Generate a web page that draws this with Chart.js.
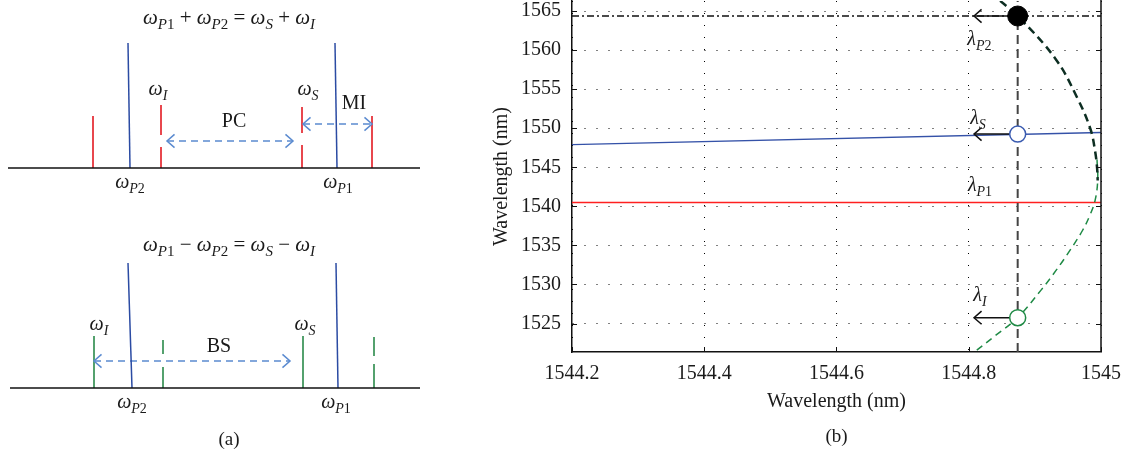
<!DOCTYPE html>
<html><head><meta charset="utf-8">
<script src="https://cdn.jsdelivr.net/npm/chart.js@4.4.1/dist/chart.umd.min.js"></script>
<style>
html,body{margin:0;padding:0;background:#fff;overflow:hidden}
#wrap{position:relative;width:1127px;height:457px;background:#fff;overflow:hidden}
canvas{position:absolute}
</style></head><body>
<div id="wrap">
<canvas id="aTop" width="420" height="225" style="left:0;top:0"></canvas>
<canvas id="aBot" width="420" height="232" style="left:0;top:225px"></canvas>
<canvas id="b" width="707" height="467" style="left:420px;top:-10px"></canvas>
</div>
<script>
// ---------------- DATA ----------------
// Panel (a) upper: PC / MI (sum-frequency relation)
const sumPumpTopFreq = [128, 335];
const sumPumpBaseFreq = [130, 337];
const sumPumpAmp = [125, 125];
const sumLineFreq = [93, 161, 302, 372];
const sumLineAmp = [52, 63, 61, 52];
const sumLineGap = [null, [21, 33], [23, 35], null];
const sumArrowFrom = [167, 303];
const sumArrowTo = [293, 372];
const sumArrowAmp = [27, 44];

// Panel (a) lower: BS (difference-frequency relation)
const diffPumpTopFreq = [128, 336];
const diffPumpBaseFreq = [132, 338];
const diffPumpAmp = [125, 125];
const diffLineFreq = [94, 163, 303, 374];
const diffLineAmp = [52, 48, 52, 51];
const diffLineGap = [null, [21, 34], null, [24, 32]];
const diffArrowFrom = [94];
const diffArrowTo = [290];
const diffArrowAmp = [27];

// Panel (b)
const xTicks = [1544.2, 1544.4, 1544.6, 1544.8, 1545];
const yTicks = [1525, 1530, 1535, 1540, 1545, 1550, 1555, 1560, 1565];
const pump1X = [1544.2, 1545];
const pump1Y = [1540.5, 1540.5];
const signalX = [1544.2, 1545];
const signalY = [1547.9, 1549.45];
const curveUpperX = [1544.8475, 1544.874, 1544.931, 1544.964, 1544.984, 1544.991, 1544.994, 1544.995];
const curveUpperY = [1566.3, 1564.36, 1558.9, 1553.9, 1549.9, 1547.1, 1545.0, 1543.3];
const curveLowerX = [1544.994, 1544.995, 1544.991, 1544.983, 1544.972, 1544.953, 1544.932, 1544.909, 1544.874, 1544.841, 1544.810];
const curveLowerY = [1546.0, 1543.3, 1540.74, 1538.83, 1536.91, 1534.36, 1531.80, 1529.25, 1525.77, 1523.51, 1521.46];
const operatingX = 1544.874;
const markerY = [1564.36, 1549.25, 1525.75];   // λP2, λS, λI
const arrowTipX = 1544.808;
const pump2Y = 1564.36;

// ---------------- HELPERS ----------------
const FONT = '"Liberation Serif", "Times New Roman", serif';
function sym(main, subI, subR) {
  const s = [[main, 'i']];
  if (subI) s.push([subI, 'si']);
  if (subR) s.push([subR, 'sr']);
  return s;
}
function op(t) { return [[t, 'r']]; }
function drawRich(ctx, seg, cx, cy, size, color) {
  const sub = Math.round(size * 0.7);
  const fontOf = st => (st[0] === 's' ? (st === 'si' ? 'italic ' : '') + sub + 'px ' + FONT
                                       : (st === 'i' ? 'italic ' : '') + size + 'px ' + FONT);
  ctx.save();
  ctx.fillStyle = color;
  ctx.textBaseline = 'alphabetic';
  ctx.textAlign = 'left';
  let total = 0;
  const widths = seg.map(([t, st]) => { ctx.font = fontOf(st); const w = ctx.measureText(t).width; total += w; return w; });
  let x = cx - total / 2;
  const base = cy + size * 0.27;
  seg.forEach(([t, st], i) => {
    ctx.font = fontOf(st);
    ctx.fillText(t, x, st[0] === 's' ? base + size * 0.25 : base);
    x += widths[i];
  });
  ctx.restore();
}
function head(ctx, fx, fy, tx, ty, L) {
  const ang = Math.atan2(ty - fy, tx - fx), a = 0.72;
  ctx.beginPath();
  ctx.moveTo(tx - L * Math.cos(ang - a), ty - L * Math.sin(ang - a));
  ctx.lineTo(tx, ty);
  ctx.lineTo(tx - L * Math.cos(ang + a), ty - L * Math.sin(ang + a));
  ctx.stroke();
}
const decor = {
  id: 'decor',
  afterDatasetsDraw(chart, args, opts) {
    const ctx = chart.ctx;
    chart.data.datasets.forEach((ds, i) => {
      if (!ds.arrow) return;
      const pts = chart.getDatasetMeta(i).data;
      const a = pts[0], b = pts[pts.length - 1];
      ctx.save();
      ctx.setLineDash([]);
      ctx.strokeStyle = ds.borderColor;
      ctx.lineWidth = ds.borderWidth;
      if (ds.arrow === 'both' || ds.arrow === 'start') head(ctx, b.x, b.y, a.x, a.y, ds.arrowSize || 9);
      if (ds.arrow === 'both' || ds.arrow === 'end') head(ctx, a.x, a.y, b.x, b.y, ds.arrowSize || 9);
      ctx.restore();
    });
    (opts.labels || []).forEach(l => {
      const x = chart.scales.x.getPixelForValue(l.x), y = chart.scales.y.getPixelForValue(l.y);
      drawRich(ctx, l.seg, x, y, l.size || 20, l.color || '#1a1a1a');
    });
  }
};
function seg(x1, y1, x2, y2, color, width, dash, extra) {
  return Object.assign({
    data: [{x: x1, y: y1}, {x: x2, y: y2}], showLine: true, borderColor: color, borderWidth: width,
    borderDash: dash || [], pointRadius: 0, fill: false, tension: 0
  }, extra || {});
}

// ---------------- PANEL (a) ----------------
function panelA(id, yMin, yMax, baseStart, pTop, pBase, pAmp, lf, la, lg, lColor, lWidth, af, at, aa, labels) {
  const ds = [];
  ds.push(seg(baseStart, 0, 420, 0, '#111', 1.6));
  pTop.forEach((f, i) => ds.push(seg(f, pAmp[i], pBase[i], 0, '#2b4ba3', 1.5)));
  lf.forEach((f, i) => {
    if (lg[i]) {
      ds.push(seg(f, 0, f, lg[i][0], lColor, lWidth));
      ds.push(seg(f, lg[i][1], f, la[i], lColor, lWidth));
    } else ds.push(seg(f, 0, f, la[i], lColor, lWidth));
  });
  af.forEach((f, i) => ds.push(seg(f, aa[i], at[i], aa[i], '#5b8bd0', 1.5, [7, 5], {arrow: 'both', arrowSize: 10})));
  return new Chart(document.getElementById(id), {
    type: 'scatter',
    data: {datasets: ds},
    options: {
      responsive: false, animation: false, events: [],
      layout: {padding: 0},
      scales: {x: {type: 'linear', min: 0, max: 420, display: false},
               y: {type: 'linear', min: yMin, max: yMax, display: false}},
      plugins: {legend: {display: false}, tooltip: {enabled: false}, decor: {labels}}
    },
    plugins: [decor]
  });
}
const eqSum = [].concat(sym('ω', 'P', '1'), op(' + '), sym('ω', 'P', '2'), op(' = '), sym('ω', 'S'), op(' + '), sym('ω', 'I'));
const eqDiff = [].concat(sym('ω', 'P', '1'), op(' − '), sym('ω', 'P', '2'), op(' = '), sym('ω', 'S'), op(' − '), sym('ω', 'I'));

panelA('aTop', -57, 168, 8, sumPumpTopFreq, sumPumpBaseFreq, sumPumpAmp, sumLineFreq, sumLineAmp, sumLineGap,
  '#e8474e', 2, sumArrowFrom, sumArrowTo, sumArrowAmp, [
    {seg: eqSum, x: 229, y: 150, size: 21},
    {seg: sym('ω', 'I'), x: 158, y: 78},
    {seg: sym('ω', 'S'), x: 308, y: 78},
    {seg: op('MI'), x: 354, y: 64},
    {seg: op('PC'), x: 234, y: 46},
    {seg: sym('ω', 'P', '2'), x: 130, y: -15},
    {seg: sym('ω', 'P', '1'), x: 338, y: -15}
  ]);
panelA('aBot', -69, 163, 10, diffPumpTopFreq, diffPumpBaseFreq, diffPumpAmp, diffLineFreq, diffLineAmp, diffLineGap,
  '#2a8a4a', 1.6, diffArrowFrom, diffArrowTo, diffArrowAmp, [
    {seg: eqDiff, x: 229, y: 143, size: 21},
    {seg: sym('ω', 'I'), x: 99, y: 63},
    {seg: sym('ω', 'S'), x: 305, y: 63},
    {seg: op('BS'), x: 219, y: 41},
    {seg: sym('ω', 'P', '2'), x: 132, y: -15},
    {seg: sym('ω', 'P', '1'), x: 336, y: -15},
    {seg: op('(a)'), x: 229, y: -52, size: 19}
  ]);

// ---------------- PANEL (b) ----------------
const xy = (xs, ys) => xs.map((x, i) => ({x, y: ys[i]}));
const Y_MIN = 1521.36, Y_MAX = 1566.28;
const bDatasets = [
  {data: markerY.map(y => ({x: operatingX, y})), showLine: false,
   pointRadius: [10, 8, 8], pointBackgroundColor: ['#000', '#fff', '#fff'],
   pointBorderColor: ['#000', '#3a5bb0', '#1f8a45'], pointBorderWidth: [1, 1.5, 1.5], pointStyle: 'circle'},
  ...markerY.map(y => seg(operatingX, y, arrowTipX, y, '#111', 1.5, [], {arrow: 'end', arrowSize: 10})),
  seg(operatingX, Y_MIN, operatingX, Y_MAX, '#444', 2, [9, 5]),
  seg(1544.2, pump2Y, 1545, pump2Y, '#111', 1.3, [7, 3, 2, 3]),
  {data: xy(curveUpperX, curveUpperY), showLine: true, borderColor: '#0d2e22', borderWidth: 2.5, borderDash: [8, 5], pointRadius: 0, tension: 0.4},
  {data: xy(curveLowerX, curveLowerY), showLine: true, borderColor: '#1f8a45', borderWidth: 1.5, borderDash: [7, 5], pointRadius: 0, tension: 0.4},
  {data: xy(signalX, signalY), showLine: true, borderColor: '#3552a8', borderWidth: 1.4, pointRadius: 0},
  {data: xy(pump1X, pump1Y), showLine: true, borderColor: '#ff2020', borderWidth: 1.6, pointRadius: 0}
];
const frame = {
  id: 'frame',
  afterDraw(chart) {
    const {ctx, chartArea: ca, scales} = chart;
    ctx.save();
    ctx.strokeStyle = '#111';
    ctx.lineWidth = 1.5;
    ctx.beginPath(); ctx.moveTo(ca.right, 0); ctx.lineTo(ca.right, ca.bottom); ctx.stroke();
    ctx.lineWidth = 1;
    ctx.beginPath();
    xTicks.forEach(v => { const x = Math.round(scales.x.getPixelForValue(v)) + 0.5; ctx.moveTo(x, ca.bottom); ctx.lineTo(x, ca.bottom - 5); });
    yTicks.forEach(v => { const y = Math.round(scales.y.getPixelForValue(v)) + 0.5; ctx.moveTo(ca.left, y); ctx.lineTo(ca.left + 5, y); ctx.moveTo(ca.right, y); ctx.lineTo(ca.right - 5, y); });
    ctx.stroke();
    ctx.restore();
    drawRich(ctx, op('(b)'), (ca.left + ca.right) / 2, chart.height - 20, 19, '#1a1a1a');
  }
};
new Chart(document.getElementById('b'), {
  type: 'scatter',
  data: {datasets: bDatasets},
  options: {
    responsive: false, animation: false, events: [],
    layout: {padding: {left: 70, right: 26, top: 0, bottom: 43}},
    scales: {
      x: {type: 'linear', position: 'bottom', min: 1544.2, max: 1545,
          afterBuildTicks: s => { s.ticks = xTicks.map(v => ({value: v})); },
          afterFit: s => { s.height = 62; s.paddingLeft = 0; s.paddingRight = 0; },
          ticks: {autoSkip: false, maxRotation: 0, padding: 10, color: '#1a1a1a', font: {family: FONT, size: 20},
                  callback: v => String(v)},
          grid: {color: '#000', lineWidth: 1, drawTicks: false},
          border: {display: true, color: '#111', width: 1.5, dash: [1, 11]},
          title: {display: true, text: 'Wavelength (nm)', color: '#1a1a1a', font: {family: FONT, size: 20}, padding: 0}},
      y: {type: 'linear', position: 'left', min: Y_MIN, max: Y_MAX,
          afterBuildTicks: s => { s.ticks = yTicks.map(v => ({value: v})); },
          afterFit: s => { s.width = 82; s.paddingTop = 0; s.paddingBottom = 0; },
          ticks: {autoSkip: false, padding: 11, color: '#1a1a1a', font: {family: FONT, size: 20},
                  callback: v => String(v)},
          grid: {color: '#000', lineWidth: 1, drawTicks: false},
          border: {display: true, color: '#111', width: 1.5, dash: [1, 11]},
          title: {display: true, text: 'Wavelength (nm)', color: '#1a1a1a', font: {family: FONT, size: 20}, padding: 0}}
    },
    plugins: {legend: {display: false}, tooltip: {enabled: false}, decor: {labels: [
      {seg: sym('λ', 'P', '2'), x: 1544.816, y: 1561.4},
      {seg: sym('λ', 'S'), x: 1544.814, y: 1551.2},
      {seg: sym('λ', 'P', '1'), x: 1544.817, y: 1542.65},
      {seg: sym('λ', 'I'), x: 1544.817, y: 1528.6}
    ]}}
  },
  plugins: [decor, frame]
});
</script>
</body></html>
